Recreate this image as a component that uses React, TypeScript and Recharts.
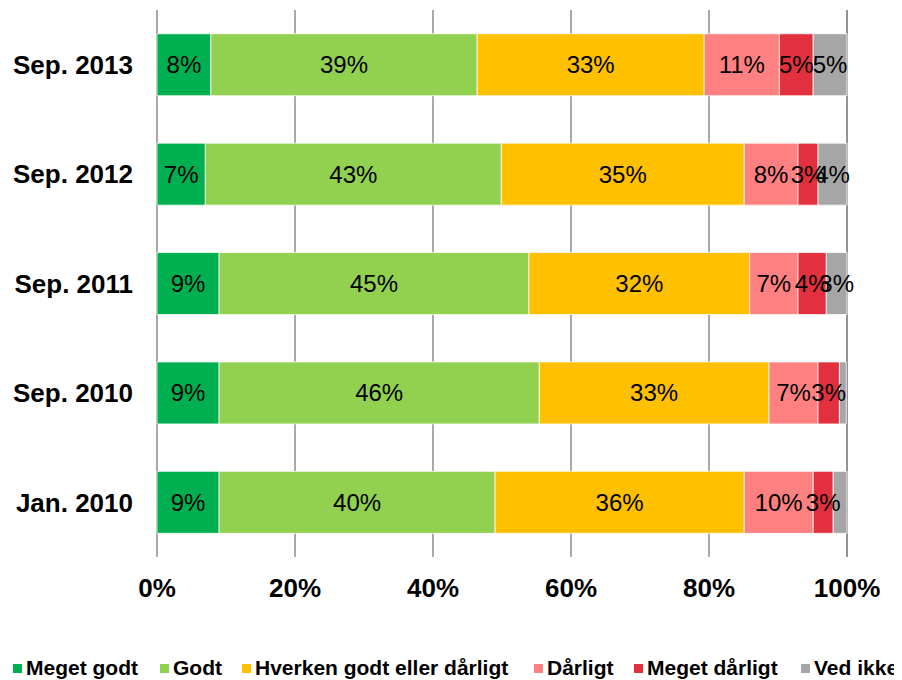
import React from "react";
import { BarChart, Bar, XAxis, YAxis, CartesianGrid, Legend, LabelList } from "recharts";

const periods = ["Sep. 2013", "Sep. 2012", "Sep. 2011", "Sep. 2010", "Jan. 2010"];
const megetGodt = [7.8, 7.0, 9.0, 9.0, 9.0];
const godt = [38.6, 42.9, 44.9, 46.4, 40.0];
const hverken = [32.9, 35.2, 32.0, 33.3, 36.1];
const daarligt = [10.9, 7.8, 7.0, 7.1, 10.0];
const megetDaarligt = [4.9, 2.9, 4.1, 3.1, 2.9];
const vedIkke = [4.9, 4.2, 3.0, 1.0, 2.0];
const xTicks = [0, 20, 40, 60, 80, 100];

const series = [
  { key: "megetGodt", name: "Meget godt", color: "#00B050", values: megetGodt },
  { key: "godt", name: "Godt", color: "#92D050", values: godt },
  { key: "hverken", name: "Hverken godt eller dårligt", color: "#FFC000", values: hverken },
  { key: "daarligt", name: "Dårligt", color: "#FF8080", values: daarligt },
  { key: "megetDaarligt", name: "Meget dårligt", color: "#E3303E", values: megetDaarligt },
  { key: "vedIkke", name: "Ved ikke", color: "#A6A6A6", values: vedIkke },
];

// left edge of each legend marker, in chart pixels
const legendX = [5, 152, 234, 526, 626, 793];

const data = periods.map((p, i) => {
  const row: Record<string, string | number> = { period: p };
  series.forEach((s) => (row[s.key] = s.values[i]));
  return row;
});

const font = "'Liberation Sans', Arial, sans-serif";

function LegendBox() {
  return (
    <div style={{ position: "relative", width: 886, height: 24, fontFamily: font, fontWeight: "bold", fontSize: 21, color: "#000", whiteSpace: "nowrap" }}>
      {series.map((s, i) => (
        <div key={s.key} style={{ position: "absolute", left: legendX[i], top: 0, height: 24, display: "flex", alignItems: "center" }}>
          <span style={{ width: 9, height: 9, background: s.color, display: "inline-block", marginRight: 4 }} />
          <span>{s.name}</span>
        </div>
      ))}
    </div>
  );
}

export default function App() {
  return (
    <BarChart
      width={886}
      height={672}
      data={data}
      layout="vertical"
      margin={{ top: 2, right: 47, left: 0, bottom: 0 }}
      barCategoryGap="21.7%"
    >
      <CartesianGrid horizontal={false} stroke="#8c8c8c" strokeWidth={1.5} />
      <XAxis
        type="number"
        domain={[0, 100]}
        ticks={xTicks}
        tickFormatter={(v) => `${v}%`}
        axisLine={false}
        tickLine={false}
        tickSize={0}
        tickMargin={22}
        height={99}
        tick={{ fill: "#000", fontFamily: font, fontWeight: "bold", fontSize: 26 }}
      />
      <YAxis
        type="category"
        dataKey="period"
        width={149}
        axisLine={false}
        tickLine={false}
        tickSize={0}
        tickMargin={24}
        tick={{ fill: "#000", fontFamily: font, fontWeight: "bold", fontSize: 26 }}
      />
      <Legend verticalAlign="bottom" wrapperStyle={{ left: 0, width: 886 }} content={() => <LegendBox />} />
      {series.map((s) => (
        <Bar key={s.key} dataKey={s.key} name={s.name} stackId="a" fill={s.color} stroke="#fff" strokeWidth={0.75} isAnimationActive={false}>
          <LabelList
            dataKey={s.key}
            position="center"
            formatter={(v: any) => (Number(v) >= 2.5 ? `${Math.round(Number(v))}%` : "")}
            style={{ fill: "#000", fontFamily: font, fontSize: 24 }}
          />
        </Bar>
      ))}
    </BarChart>
  );
}
